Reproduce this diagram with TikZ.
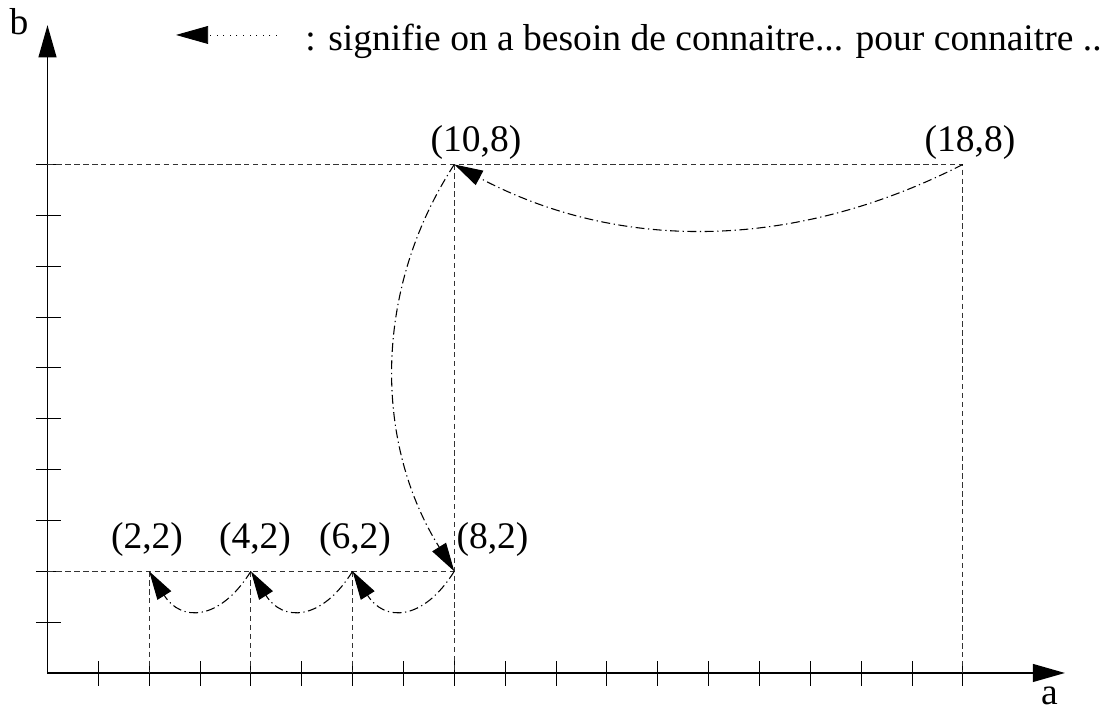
\documentclass[tikz,border=0pt]{standalone}
\usepackage{fontspec}
\setmainfont{Liberation Serif}
\usetikzlibrary{arrows.meta}

\begin{document}
\begin{tikzpicture}[font=\fontsize{21}{25}\selectfont,every node/.style={inner sep=0pt},
  axis/.style={line width=0.85pt,-{Triangle[length=18pt,width=10pt]}},
  tick/.style={line width=0.45pt},
  guide/.style={line width=0.45pt,black!80,dash pattern=on 3pt off 2pt},
  link/.style={line width=0.6pt,dash pattern=on 5pt off 2pt on 0.7pt off 2pt,-{Triangle[length=16pt,width=9pt]}},
  legend/.style={line width=0.5pt,dash pattern=on 0.5pt off 3.2pt,-{Triangle[length=18pt,width=10pt]}}]
  \useasboundingbox (-0.934,-0.787) rectangle (20.915,13.235);
  \coordinate (o) at (0,0);
  \coordinate (xend) at (20.01,0);
  \coordinate (yend) at (0,12.74);
  \coordinate (p22) at (2,2);
  \coordinate (p42) at (4,2);
  \coordinate (p62) at (6,2);
  \coordinate (p82) at (8,2);
  \coordinate (p108) at (8,10);
  \coordinate (p188) at (18,10);
  \draw[axis] (o) -- (xend);
  \draw[axis] (o) -- (yend);
  \foreach \i in {1,...,18} \draw[tick] (\i,-0.25) -- (\i,0.24);
  \foreach \j in {1,...,10} \draw[tick] (-0.23,\j) -- (0.26,\j);
  \draw[guide] (o |- p108) -- (p188) -- (p188 |- o);
  \draw[guide] (p108) -- (p108 |- o);
  \draw[guide] (o |- p82) -- (p82);
  \draw[guide] (p22) -- (p22 |- o);
  \draw[guide] (p42) -- (p42 |- o);
  \draw[guide] (p62) -- (p62 |- o);
  \draw[link] (p42) to[out=238,in=-58,looseness=1.5] (p22);
  \draw[link] (p62) to[out=238,in=-58,looseness=1.5] (p42);
  \draw[link] (p82) to[out=238,in=-58,looseness=1.5] (p62);
  \draw[link] (p188) to[out=207,in=-28,looseness=0.95] (p108);
  \draw[link] (p108) to[out=237,in=122,looseness=0.95] (p82);
  \node[anchor=base] (l22) at (1.957,2.439) {(2,2)};
  \node[anchor=base] (l42) at (4.081,2.439) {(4,2)};
  \node[anchor=base] (l62) at (6.047,2.439) {(6,2)};
  \node[anchor=base] (l82) at (8.751,2.439) {(8,2)};
  \node[anchor=base] (l108) at (8.427,10.246) {(10,8)};
  \node[anchor=base] (l188) at (18.141,10.246) {(18,8)};
  \node[anchor=base] (lb) at (-0.56,12.547) {b};
  \node[anchor=base] (la) at (19.705,-0.62) {a};
  \coordinate (legtip) at (2.527,12.547);
  \coordinate (legtail) at (4.513,12.547);
  \draw[legend] (legtail) -- (legtip);
  \node[anchor=base west] (legtext) at (5.064,12.232) {: signifie on a besoin de connaitre... pour connaitre ..};
\end{tikzpicture}
\end{document}
